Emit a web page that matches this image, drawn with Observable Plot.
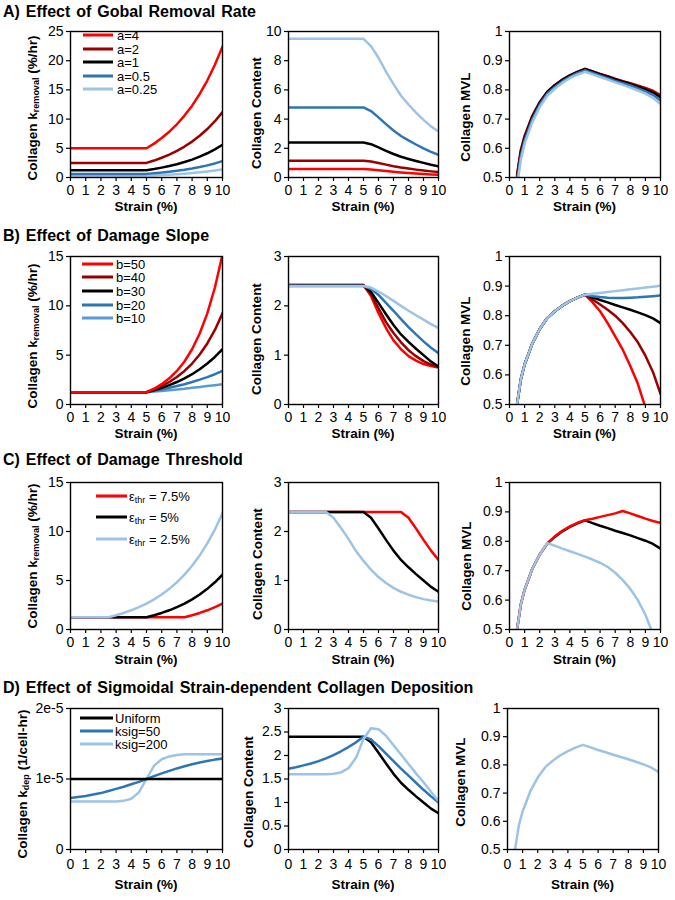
<!DOCTYPE html>
<html><head><meta charset="utf-8">
<script src="https://cdn.jsdelivr.net/npm/d3@7"></script>
<script src="https://cdn.jsdelivr.net/npm/@observablehq/plot@0.6"></script>
<style>
body{margin:0;background:#fff;}
#fig{position:relative;width:675px;height:900px;overflow:hidden;font-family:"Liberation Sans",Arial,sans-serif;color:#000;background:#fff;}
.t{position:absolute;white-space:nowrap;}
.title{font-weight:bold;font-size:16px;line-height:20px;word-spacing:1.5px;transform:translateY(-50%);}
.ax{font-weight:bold;font-size:13.5px;line-height:11px;}
.yt{transform:translate(-50%,-50%) rotate(-90deg);}
.xt{transform:translate(-50%,-50%);}
.leg{font-size:13px;line-height:13px;display:flex;align-items:center;transform:translateY(-50%);}
.legc{font-size:13px;}
.sw{display:inline-block;height:3px;}
sub{font-size:9px;vertical-align:-2px;line-height:0;}
svg{position:absolute;overflow:visible;}
</style>
</head><body>
<div id="fig"></div>
<script>
// ---------- data ----------
const strain = [0,0.5,1,1.5,2,2.5,3,3.5,4,4.5,5,5.5,6,6.5,7,7.5,8,8.5,9,9.5,10];
const strainMVL = [0.5,0.75,1,1.5,2,2.5,3,3.5,4,4.5,5,5.5,6,6.5,7,7.5,8,8.5,9,9.5,10];
const xTicks = [0,1,2,3,4,5,6,7,8,9,10];
const xTickLabels = ["0","1","2","3","4","5","6","7","8","9","10"];

const titles = ["A) Effect of Gobal Removal Rate","B) Effect of Damage Slope","C) Effect of Damage Threshold","D) Effect of Sigmoidal Strain-dependent Collagen Deposition"];

// A) global removal rate
const legendA = ["a=4","a=2","a=1","a=0.5","a=0.25"];
const kA_a4   = [5,5,5,5,5,5,5,5,5,5,5,5.8,6.75,7.84,9.11,10.6,12.3,14.3,16.6,19.3,22.4];
const kA_a2   = [2.5,2.5,2.5,2.5,2.5,2.5,2.5,2.5,2.5,2.5,2.5,2.9,3.38,3.92,4.56,5.3,6.15,7.15,8.3,9.64,11.2];
const kA_a1   = [1.25,1.25,1.25,1.25,1.25,1.25,1.25,1.25,1.25,1.25,1.25,1.45,1.69,1.96,2.28,2.65,3.07,3.57,4.15,4.82,5.6];
const kA_a05  = [0.62,0.62,0.62,0.62,0.62,0.62,0.62,0.62,0.62,0.62,0.62,0.73,0.84,0.98,1.14,1.32,1.54,1.79,2.08,2.41,2.8];
const kA_a025 = [0.31,0.31,0.31,0.31,0.31,0.31,0.31,0.31,0.31,0.31,0.31,0.36,0.42,0.49,0.57,0.66,0.77,0.89,1.04,1.2,1.4];
const cA_a4   = [0.58,0.58,0.58,0.58,0.58,0.58,0.58,0.58,0.58,0.58,0.58,0.55,0.5,0.44,0.39,0.34,0.3,0.27,0.24,0.21,0.19];
const cA_a2   = [1.15,1.15,1.15,1.15,1.15,1.15,1.15,1.15,1.15,1.15,1.15,1.09,0.99,0.88,0.77,0.68,0.61,0.54,0.48,0.42,0.37];
const cA_a1   = [2.4,2.4,2.4,2.4,2.4,2.4,2.4,2.4,2.4,2.4,2.4,2.28,2.06,1.83,1.61,1.42,1.27,1.13,1.0,0.87,0.76];
const cA_a05  = [4.8,4.8,4.8,4.8,4.8,4.8,4.8,4.8,4.8,4.8,4.8,4.55,4.12,3.66,3.22,2.84,2.54,2.26,2.0,1.76,1.55];
const cA_a025 = [9.5,9.5,9.5,9.5,9.5,9.5,9.5,9.5,9.5,9.5,9.5,9.0,8.2,7.25,6.4,5.6,5.0,4.45,3.95,3.5,3.15];
const mA_a4   = [0.51,0.595,0.643,0.71,0.758,0.794,0.817,0.835,0.85,0.862,0.872,0.863,0.855,0.847,0.838,0.83,0.823,0.815,0.807,0.797,0.782];
const mA_a2   = [0.505,0.59,0.64,0.708,0.757,0.793,0.816,0.835,0.85,0.862,0.872,0.863,0.854,0.846,0.837,0.829,0.822,0.813,0.805,0.795,0.78];
const mA_a1   = [0.5,0.585,0.635,0.705,0.755,0.792,0.815,0.834,0.849,0.861,0.871,0.862,0.853,0.845,0.836,0.828,0.82,0.811,0.802,0.791,0.775];
const mA_a05  = [0.49,0.575,0.627,0.698,0.749,0.787,0.81,0.829,0.845,0.857,0.867,0.858,0.849,0.84,0.831,0.823,0.815,0.805,0.795,0.783,0.764];
const mA_a025 = [0.47,0.56,0.615,0.688,0.741,0.78,0.804,0.824,0.84,0.852,0.862,0.853,0.844,0.835,0.826,0.817,0.808,0.798,0.787,0.773,0.752];

// B) damage slope
const legendB = ["b=50","b=40","b=30","b=20","b=10"];
const kB_b50 = [1.25,1.25,1.25,1.25,1.25,1.25,1.25,1.25,1.25,1.25,1.25,1.6,2.06,2.65,3.4,4.36,5.6,7.19,9.24,11.86,15.2];
const kB_b40 = [1.25,1.25,1.25,1.25,1.25,1.25,1.25,1.25,1.25,1.25,1.25,1.53,1.87,2.28,2.78,3.4,4.15,5.07,6.19,7.56,9.24];
const kB_b30 = [1.25,1.25,1.25,1.25,1.25,1.25,1.25,1.25,1.25,1.25,1.25,1.45,1.69,1.96,2.28,2.65,3.07,3.57,4.15,4.82,5.6];
const kB_b20 = [1.25,1.25,1.25,1.25,1.25,1.25,1.25,1.25,1.25,1.25,1.25,1.38,1.53,1.69,1.87,2.06,2.28,2.52,2.78,3.07,3.4];
const kB_b10 = [1.25,1.25,1.25,1.25,1.25,1.25,1.25,1.25,1.25,1.25,1.25,1.31,1.38,1.45,1.53,1.6,1.69,1.77,1.87,1.96,2.06];
const cB_b50 = [2.42,2.42,2.42,2.42,2.42,2.42,2.42,2.42,2.42,2.42,2.42,2.2,1.85,1.55,1.3,1.12,0.98,0.89,0.82,0.78,0.75];
const cB_b40 = [2.42,2.42,2.42,2.42,2.42,2.42,2.42,2.42,2.42,2.42,2.42,2.24,1.95,1.67,1.45,1.26,1.1,0.98,0.88,0.81,0.76];
const cB_b30 = [2.41,2.41,2.41,2.41,2.41,2.41,2.41,2.41,2.41,2.41,2.41,2.28,2.06,1.83,1.61,1.42,1.27,1.13,1.0,0.87,0.77];
const cB_b20 = [2.4,2.4,2.4,2.4,2.4,2.4,2.4,2.4,2.4,2.4,2.4,2.34,2.22,2.06,1.9,1.73,1.57,1.42,1.28,1.15,1.04];
const cB_b10 = [2.4,2.4,2.4,2.4,2.4,2.4,2.4,2.4,2.4,2.4,2.4,2.37,2.29,2.2,2.1,2.0,1.9,1.81,1.72,1.63,1.55];
const mB_b50 = [0.5,0.585,0.635,0.705,0.755,0.792,0.815,0.834,0.849,0.861,0.871,0.845,0.815,0.775,0.73,0.685,0.63,0.57,0.49,0.4,0.3];
const mB_b40 = [0.5,0.585,0.635,0.705,0.755,0.792,0.815,0.834,0.849,0.861,0.871,0.855,0.838,0.82,0.8,0.775,0.745,0.71,0.665,0.61,0.536];
const mB_b30 = [0.5,0.585,0.635,0.705,0.755,0.792,0.815,0.834,0.849,0.861,0.871,0.862,0.853,0.845,0.836,0.828,0.82,0.811,0.802,0.791,0.775];
const mB_b20 = [0.5,0.585,0.635,0.705,0.755,0.792,0.815,0.834,0.849,0.861,0.871,0.866,0.863,0.861,0.86,0.86,0.861,0.862,0.864,0.866,0.868];
const mB_b10 = [0.5,0.585,0.635,0.705,0.755,0.792,0.815,0.834,0.849,0.861,0.871,0.874,0.877,0.88,0.883,0.886,0.889,0.892,0.895,0.898,0.901];

// C) damage threshold
const legendC = ["ε<sub>thr</sub> = 7.5%","ε<sub>thr</sub> = 5%","ε<sub>thr</sub> = 2.5%"];
const kC_75 = [1.25,1.25,1.25,1.25,1.25,1.25,1.25,1.25,1.25,1.25,1.25,1.25,1.25,1.25,1.25,1.25,1.45,1.69,1.96,2.28,2.65];
const kC_5  = [1.25,1.25,1.25,1.25,1.25,1.25,1.25,1.25,1.25,1.25,1.25,1.45,1.69,1.96,2.28,2.65,3.07,3.57,4.15,4.82,5.6];
const kC_25 = [1.25,1.25,1.25,1.25,1.25,1.25,1.45,1.69,1.96,2.28,2.65,3.07,3.57,4.15,4.82,5.6,6.51,7.56,8.79,10.2,11.86];
const cC_75 = [2.4,2.4,2.4,2.4,2.4,2.4,2.4,2.4,2.4,2.4,2.4,2.4,2.4,2.4,2.4,2.4,2.28,2.06,1.83,1.61,1.42];
const cC_5  = [2.4,2.4,2.4,2.4,2.4,2.4,2.4,2.4,2.4,2.4,2.4,2.28,2.06,1.83,1.61,1.42,1.27,1.13,1.0,0.87,0.77];
const cC_25 = [2.4,2.4,2.4,2.4,2.4,2.4,2.28,2.07,1.85,1.6,1.4,1.22,1.07,0.95,0.85,0.77,0.71,0.66,0.62,0.59,0.57];
const mC_75 = [0.5,0.585,0.635,0.705,0.755,0.793,0.817,0.836,0.851,0.863,0.872,0.877,0.883,0.889,0.895,0.903,0.895,0.886,0.877,0.869,0.863];
const mC_5  = [0.5,0.585,0.635,0.705,0.755,0.792,0.815,0.834,0.849,0.861,0.871,0.862,0.853,0.845,0.836,0.828,0.82,0.811,0.802,0.791,0.775];
const mC_25 = [0.5,0.585,0.635,0.705,0.755,0.794,0.785,0.775,0.766,0.757,0.748,0.738,0.727,0.713,0.693,0.668,0.638,0.6,0.55,0.485,0.41];

// D) sigmoidal deposition
const legendD = ["Uniform","ksig=50","ksig=200"];
const kD_uni = [1e-5,1e-5,1e-5,1e-5,1e-5,1e-5,1e-5,1e-5,1e-5,1e-5,1e-5,1e-5,1e-5,1e-5,1e-5,1e-5,1e-5,1e-5,1e-5,1e-5,1e-5];
const kD_50  = [0.73e-5,0.745e-5,0.76e-5,0.78e-5,0.8e-5,0.83e-5,0.86e-5,0.89e-5,0.925e-5,0.96e-5,1.0e-5,1.04e-5,1.08e-5,1.115e-5,1.15e-5,1.18e-5,1.21e-5,1.235e-5,1.255e-5,1.275e-5,1.29e-5];
const kD_200 = [0.68e-5,0.68e-5,0.68e-5,0.68e-5,0.68e-5,0.68e-5,0.68e-5,0.69e-5,0.72e-5,0.81e-5,1.0e-5,1.19e-5,1.28e-5,1.32e-5,1.34e-5,1.35e-5,1.35e-5,1.35e-5,1.35e-5,1.35e-5,1.35e-5];
const cD_uni = [2.4,2.4,2.4,2.4,2.4,2.4,2.4,2.4,2.4,2.4,2.4,2.28,2.06,1.83,1.61,1.42,1.27,1.13,1.0,0.87,0.77];
const cD_50  = [1.72,1.75,1.79,1.83,1.88,1.94,2.01,2.09,2.18,2.28,2.4,2.34,2.2,2.04,1.88,1.72,1.57,1.42,1.27,1.13,1.0];
const cD_200 = [1.6,1.6,1.6,1.6,1.6,1.6,1.61,1.64,1.73,1.95,2.35,2.58,2.56,2.42,2.22,2.02,1.82,1.62,1.43,1.23,1.03];
const mD     = [0.5,0.585,0.635,0.705,0.755,0.792,0.815,0.834,0.849,0.861,0.871,0.862,0.853,0.845,0.836,0.828,0.82,0.811,0.802,0.791,0.775];

// tick values / labels
const yTicksK25 = [0,5,10,15,20,25], yLabK25 = ["0","5","10","15","20","25"];
const yTicksC10 = [0,2,4,6,8,10], yLabC10 = ["0","2","4","6","8","10"];
const yTicksMVL = [0.5,0.6,0.7,0.8,0.9,1], yLabMVL = ["0.5","0.6","0.7","0.8","0.9","1"];
const yTicksK15 = [0,5,10,15], yLabK15 = ["0","5","10","15"];
const yTicksC3 = [0,1,2,3], yLabC3 = ["0","1","2","3"];
const yTicksKdep = [0,1e-5,2e-5], yLabKdep = ["0","1e-5","2e-5"];
const yTicksC3h = [0,0.5,1,1.5,2,2.5,3], yLabC3h = ["0","0.5","1","1.5","2","2.5","3"];

// ---------- styling ----------
const RED = "#ff0000", DRED = "#990000", BLK = "#000000", BLUE = "#2e75b6", LBLUE = "#9dc3e6", MBLUE = "#5b9bd5";
const FONT = '"Liberation Sans", Arial, sans-serif';
const fig = document.getElementById("fig");
const cols = [[70,222],[288,438],[509,660]];
const rows = [[31,177],[256,404],[482,629],[708,849]];
const tickPad = [4,4,4,6];
const xLabOff = [29,29,30,35];
const titleY = [12,236,460,688];

const kTitle = 'Collagen k<sub>removal</sub> (%/hr)';
const cTitle = 'Collagen Content';
const mTitle = 'Collagen MVL';

const panels = [
  {r:0,c:0,yd:[0,25],yt:yTicksK25,yl:yLabK25,x:strain,ys:[kA_a025,kA_a05,kA_a1,kA_a2,kA_a4],cs:[LBLUE,BLUE,BLK,DRED,RED],title:kTitle,tx:32,ty:108},
  {r:0,c:1,yd:[0,10],yt:yTicksC10,yl:yLabC10,x:strain,ys:[cA_a025,cA_a05,cA_a1,cA_a2,cA_a4],cs:[LBLUE,BLUE,BLK,DRED,RED],title:cTitle,tx:256,ty:113},
  {r:0,c:2,yd:[0.5,1],yt:yTicksMVL,yl:yLabMVL,x:strainMVL,ys:[mA_a4,mA_a2,mA_a1,mA_a05,mA_a025],cs:[RED,DRED,BLK,BLUE,LBLUE],title:mTitle,tx:465,ty:117},
  {r:1,c:0,yd:[0,15],yt:yTicksK15,yl:yLabK15,x:strain,ys:[kB_b10,kB_b20,kB_b30,kB_b40,kB_b50],cs:[MBLUE,BLUE,BLK,DRED,RED],title:kTitle,tx:32,ty:336},
  {r:1,c:1,yd:[0,3],yt:yTicksC3,yl:yLabC3,x:strain,ys:[cB_b50,cB_b40,cB_b30,cB_b20,cB_b10],cs:[RED,DRED,BLK,BLUE,LBLUE],title:cTitle,tx:256,ty:339},
  {r:1,c:2,yd:[0.5,1],yt:yTicksMVL,yl:yLabMVL,x:strainMVL,ys:[mB_b50,mB_b40,mB_b30,mB_b20,mB_b10],cs:[RED,DRED,BLK,BLUE,LBLUE],title:mTitle,tx:465,ty:341},
  {r:2,c:0,yd:[0,15],yt:yTicksK15,yl:yLabK15,x:strain,ys:[kC_75,kC_5,kC_25],cs:[RED,BLK,LBLUE],title:kTitle,tx:32,ty:556},
  {r:2,c:1,yd:[0,3],yt:yTicksC3,yl:yLabC3,x:strain,ys:[cC_75,cC_5,cC_25],cs:[RED,BLK,LBLUE],title:cTitle,tx:257,ty:564},
  {r:2,c:2,yd:[0.5,1],yt:yTicksMVL,yl:yLabMVL,x:strainMVL,ys:[mC_5,mC_75,mC_25],cs:[BLK,RED,LBLUE],title:mTitle,tx:466,ty:566},
  {r:3,c:0,yd:[0,2e-5],yt:yTicksKdep,yl:yLabKdep,x:strain,ys:[kD_200,kD_50,kD_uni],cs:[LBLUE,BLUE,BLK],title:'Collagen k<sub>dep</sub> (1/cell-hr)',tx:22,ty:784},
  {r:3,c:1,yd:[0,3],yt:yTicksC3h,yl:yLabC3h,x:strain,ys:[cD_uni,cD_50,cD_200],cs:[BLK,BLUE,LBLUE],title:cTitle,tx:248,ty:792},
  {r:3,c:2,yd:[0.5,1],yt:yTicksMVL,yl:yLabMVL,x:strainMVL,ys:[mD],cs:[LBLUE],title:mTitle,tx:460,ty:782}
];

function addText(html, cls, x, y) {
  const d = document.createElement("div");
  d.className = "t " + cls;
  d.innerHTML = html;
  d.style.left = x + "px";
  d.style.top = y + "px";
  fig.appendChild(d);
  return d;
}

titles.forEach((t, i) => addText(t, "title", 3, titleY[i]));

const ml = 52, mr = 16, mt = 8, mb = 26;
const xFmt = new Map(xTicks.map((t, i) => [t, xTickLabels[i]]));

for (const p of panels) {
  const [x0, x1] = p.c === 2 && p.r === 3 ? [507,658] : cols[p.c];
  const [y0, y1] = rows[p.r];
  const yFmt = new Map(p.yt.map((t, i) => [t, p.yl[i]]));
  const lines = p.ys.map((ys, k) =>
    Plot.line(ys.map((v, i) => ({x: p.x[i], y: v})), {x: "x", y: "y", stroke: p.cs[k], strokeWidth: 2.5, curve: "linear", clip: true})
  );
  const svg = Plot.plot({
    width: (x1 - x0) + ml + mr,
    height: (y1 - y0) + mt + mb,
    marginLeft: ml, marginRight: mr, marginTop: mt, marginBottom: mb,
    style: {fontFamily: FONT, fontSize: "14px", color: "#000", background: "transparent", overflow: "visible"},
    x: {domain: [0, 10]},
    y: {domain: p.yd},
    marks: [
      Plot.axisX(xTicks, {tickSize: 4, tickPadding: tickPad[p.r], tickFormat: d => xFmt.get(d), label: null, strokeWidth: 1.2}),
      Plot.axisY(p.yt, {tickSize: 4, tickPadding: 3, tickFormat: d => yFmt.get(d), label: null, strokeWidth: 1.2}),
      ...lines,
      Plot.frame({stroke: "#000", strokeWidth: 1.4})
    ]
  });
  svg.style.left = (x0 - ml) + "px";
  svg.style.top = (y0 - mt) + "px";
  fig.appendChild(svg);
  addText(p.title, "ax yt", p.tx, p.ty);
  addText("Strain (%)", "ax xt", (x0 + x1) / 2, y1 + xLabOff[p.r]);
}

// ---------- legends ----------
function legend(labels, colors, x0, x1, gap, yStart, dy, cls) {
  labels.forEach((lab, i) => {
    const d = addText("", "leg " + (cls || ""), x0, yStart + i * dy);
    const sw = document.createElement("span");
    sw.className = "sw";
    sw.style.width = (x1 - x0) + "px";
    sw.style.background = colors[i];
    sw.style.marginRight = gap + "px";
    const tx = document.createElement("span");
    tx.innerHTML = lab;
    d.appendChild(sw);
    d.appendChild(tx);
  });
}
legend(legendA, [RED, DRED, BLK, BLUE, LBLUE], 83, 113, 4, 35, 13.6);
legend(legendB, [RED, DRED, BLK, BLUE, MBLUE], 82, 113, 3, 263.5, 13.7);
legend(legendC, [RED, BLK, LBLUE], 96, 127, 2, 495.7, 21.7, "legc");
legend(legendD, [BLK, BLUE, LBLUE], 80, 113, 2, 717.7, 13.3);
</script>
</body></html>
